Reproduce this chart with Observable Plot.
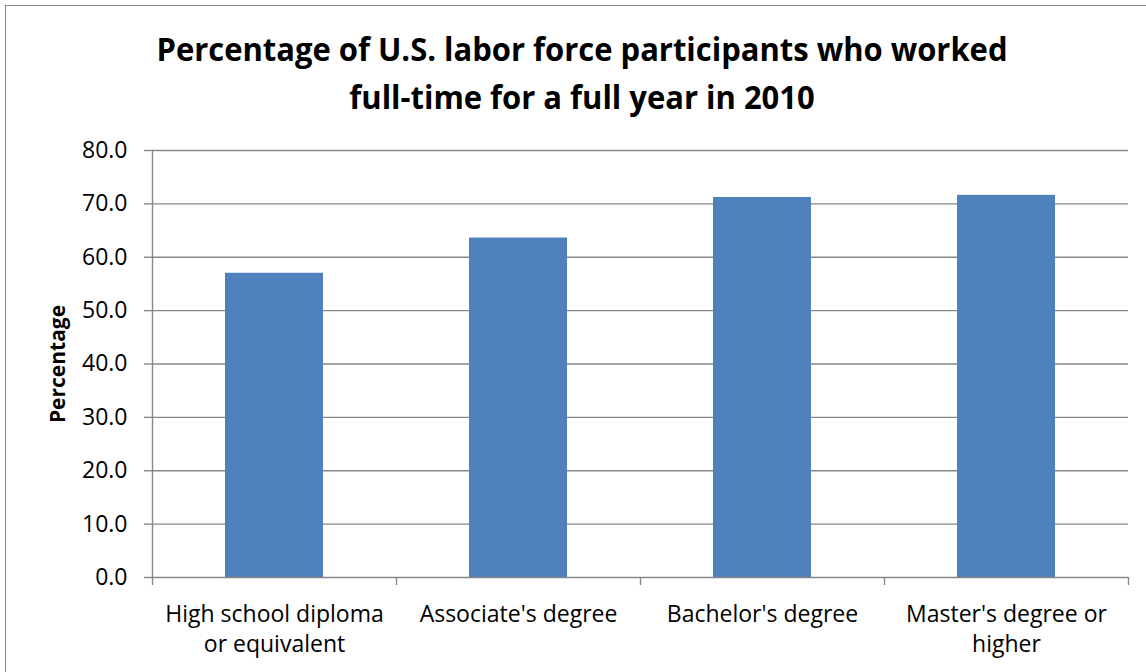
<!DOCTYPE html>
<html><head><meta charset="utf-8">
<script src="https://cdn.jsdelivr.net/npm/d3@7"></script>
<script src="https://cdn.jsdelivr.net/npm/@observablehq/plot@0.6"></script>
<style>
html,body{margin:0;padding:0;background:#fff;overflow:hidden;}
#wrap{position:relative;width:1146px;height:672px;overflow:hidden;font-family:'Open Sans',sans-serif;background:#fff;}
#frame{position:absolute;left:5px;top:4.5px;width:1170px;height:700px;border-left:1.5px solid #888;border-top:1.5px solid #888;box-sizing:border-box;pointer-events:none;z-index:2}
#title{position:relative;width:1164px;height:130px;box-sizing:border-box;padding-top:25px;text-align:center;font-weight:700;font-size:33px;line-height:48px;color:#000;transform-origin:582px 0;white-space:nowrap}
#chart svg{display:block}
</style></head><body>
<div id="wrap"><div id="frame"></div><div id="title"></div><div id="chart"></div></div>
<script>
const titleLines = ["Percentage of U.S. labor force participants who worked", "full-time for a full year in 2010"];
const categories = ["High school diploma\nor equivalent", "Associate's degree", "Bachelor's degree", "Master's degree or\nhigher"];
const values = [57.0, 63.6, 71.2, 71.6];
const yTicks = [0, 10, 20, 30, 40, 50, 60, 70, 80];
const yLabel = "Percentage";

// title
const titleEl = document.getElementById("title");
titleEl.innerHTML = titleLines.map(t => `<div>${t}</div>`).join("");
const cv = document.createElement("canvas").getContext("2d");
cv.font = "bold 33px 'Open Sans'";
const w1 = cv.measureText(titleLines[0]).width;
const k = 851 / w1;
titleEl.style.transform = `scaleX(${k})`;

const W = 1146, H = 542, ml = 152, mr = 18, mt = 20, mb = 95;
const pIn = 0.60, pOut = 0.30;
const step = (W - ml - mr) / (categories.length - pIn + 2 * pOut);
const data = categories.map((c, i) => ({category: c, value: values[i]}));
const gray = "#878787";

const chart = Plot.plot({
  width: W, height: H,
  marginLeft: ml, marginRight: mr, marginTop: mt, marginBottom: mb,
  style: {fontFamily: "'Open Sans', sans-serif", fontSize: "23px", color: "#000", background: "#fff", overflow: "visible"},
  x: {domain: categories, paddingInner: pIn, paddingOuter: pOut},
  y: {domain: [0, 80]},
  marks: [
    Plot.ruleY(yTicks.filter(t => t > 0), {stroke: gray, strokeWidth: 1.4}),
    Plot.barY(data, {x: "category", y: "value", fill: "#4F81BD"}),
    Plot.ruleY([0], {stroke: gray, strokeWidth: 1.4}),
    Plot.frame({anchor: "left", stroke: gray, strokeWidth: 1.4}),
    Plot.ruleX(categories, {x: d => d, y1: 0, y2: 0, insetBottom: -8, dx: -step / 2, stroke: gray, strokeWidth: 1.4}),
    Plot.ruleX([categories[categories.length - 1]], {x: d => d, y1: 0, y2: 0, insetBottom: -8, dx: step / 2, stroke: gray, strokeWidth: 1.4}),
    Plot.axisY({ticks: yTicks, tickFormat: d3.format(".1f"), tickSize: 8, tickPadding: 17, stroke: gray, strokeWidth: 1.4, label: null, fontSize: 23}),
    Plot.axisX({tickSize: 0, tickPadding: 23, label: null, lineHeight: 1.3, fontSize: 23}),
    Plot.text([yLabel], {frameAnchor: "left", dx: -94, rotate: -90, textAnchor: "middle", lineAnchor: "middle", fontWeight: "bold", fontSize: 21, fill: "#000"})
  ]
});
document.getElementById("chart").appendChild(chart);
</script>
</body></html>
